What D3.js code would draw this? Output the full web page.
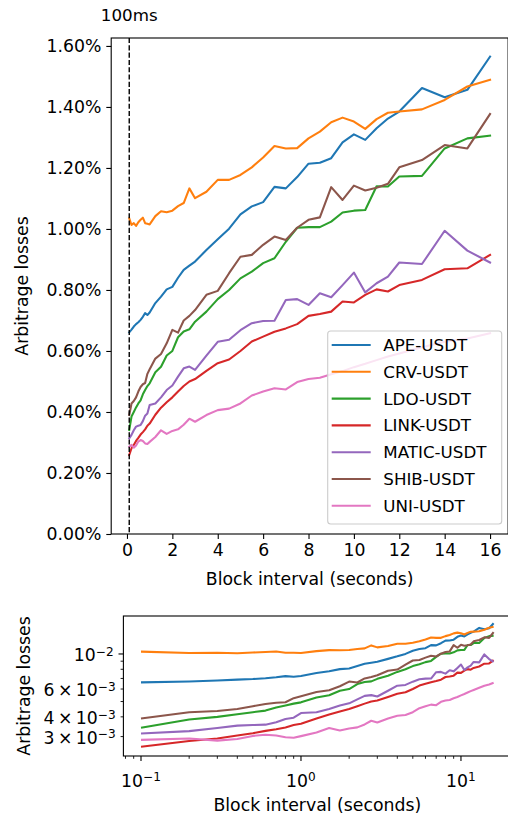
<!DOCTYPE html>
<html><head><meta charset="utf-8">
<script src="https://cdn.jsdelivr.net/npm/d3@7"></script>
<style>body{margin:0;background:#fff;} svg text{font-family:"DejaVu Sans",sans-serif;fill:#000;}</style>
</head><body><svg id="c" width="508" height="818"></svg>
<script>
// ---- data (arbitrage losses in %) ----
const blockIntervals = [0.1,0.2,0.3,0.4,0.5,0.6,0.7,0.8,0.9,1.0,1.25,1.5,1.75,2.0,2.25,2.5,2.75,3.0,3.5,4.0,4.5,5.0,5.5,6.0,6.5,7.0,7.5,8.0,8.5,9.0,9.5,10.0,10.5,11.0,11.5,12.0,13,14,15,16];
const pairNames = ["APE-USDT","CRV-USDT","LDO-USDT","LINK-USDT","MATIC-USDT","SHIB-USDT","UNI-USDT"];
const apeUsdt = [0.661,0.670,0.680,0.688,0.694,0.702,0.712,0.724,0.718,0.726,0.757,0.778,0.802,0.810,0.840,0.866,0.880,0.893,0.931,0.966,1.001,1.048,1.074,1.088,1.138,1.133,1.170,1.214,1.217,1.232,1.284,1.310,1.292,1.330,1.362,1.385,1.462,1.432,1.456,1.565];
const crvUsdt = [1.035,1.013,1.019,1.010,1.022,1.030,1.037,1.019,1.017,1.015,1.042,1.058,1.055,1.060,1.075,1.085,1.133,1.101,1.122,1.161,1.161,1.177,1.202,1.234,1.272,1.264,1.265,1.297,1.319,1.350,1.365,1.352,1.328,1.360,1.381,1.385,1.392,1.423,1.467,1.489];
const ldoUsdt = [0.341,0.385,0.400,0.415,0.428,0.438,0.458,0.472,0.485,0.494,0.530,0.548,0.585,0.600,0.645,0.664,0.671,0.696,0.729,0.770,0.800,0.838,0.860,0.888,0.904,0.958,1.004,1.006,1.006,1.024,1.054,1.060,1.062,1.140,1.139,1.172,1.174,1.264,1.297,1.306];
const linkUsdt = [0.259,0.281,0.292,0.305,0.315,0.326,0.334,0.343,0.355,0.362,0.391,0.414,0.432,0.448,0.467,0.485,0.500,0.508,0.535,0.560,0.572,0.600,0.631,0.647,0.663,0.674,0.688,0.715,0.721,0.729,0.762,0.759,0.784,0.802,0.795,0.816,0.833,0.868,0.871,0.915];
const maticUsdt = [0.314,0.325,0.340,0.352,0.355,0.357,0.370,0.388,0.395,0.423,0.428,0.448,0.472,0.487,0.516,0.543,0.549,0.538,0.585,0.630,0.637,0.668,0.691,0.698,0.699,0.767,0.770,0.751,0.789,0.776,0.816,0.857,0.792,0.822,0.844,0.890,0.885,0.994,0.929,0.890];
const shibUsdt = [0.390,0.428,0.436,0.448,0.467,0.482,0.491,0.495,0.525,0.540,0.575,0.590,0.625,0.669,0.660,0.700,0.715,0.734,0.784,0.797,0.855,0.909,0.915,0.948,0.975,0.964,1.004,1.030,1.038,1.137,1.095,1.142,1.126,1.135,1.148,1.202,1.226,1.275,1.264,1.377];
const uniUsdt = [0.286,0.292,0.283,0.290,0.303,0.308,0.305,0.297,0.295,0.302,0.318,0.340,0.328,0.338,0.343,0.358,0.378,0.368,0.390,0.406,0.411,0.428,0.454,0.467,0.478,0.474,0.498,0.508,0.512,0.524,0.534,0.547,0.558,0.570,0.582,0.592,0.612,0.630,0.641,0.658];
const seriesValues = [apeUsdt,crvUsdt,ldoUsdt,linkUsdt,maticUsdt,shibUsdt,uniUsdt];
const colors = ["#1f77b4","#ff7f0e","#2ca02c","#d62728","#9467bd","#8c564b","#e377c2"];
const topXTicks = [0,2,4,6,8,10,12,14,16];
const topYTicks = [0,0.2,0.4,0.6,0.8,1.0,1.2,1.4,1.6];
const logXMajor = [0.1,1,10];
const logXMajorExp = ["\u22121","0","1"];
const logYLabeled = [0.01,0.006,0.004,0.003];
const logYLabelText = [["","\u22122"],["6\u2009\u00d7\u2009","\u22123"],["4\u2009\u00d7\u2009","\u22123"],["3\u2009\u00d7\u2009","\u22123"]];
const markerInterval = 0.1;
const markerLabel = "100ms";
const xLabel = "Block interval (seconds)";
const yLabel = "Arbitrage losses";

const FS = 17.3, TL = 4.9, TLm = 2.8, PAD = 4.9, SW = 1.1;
const svg = d3.select("#c");

// ---------- top linear chart ----------
const T = {l:111.2, r:508.1, t:38, b:534};
const x1 = d3.scaleLinear().domain([-0.695,16.795]).range([T.l,T.r]);
const y1 = d3.scaleLinear().domain([0,1.626]).range([T.b,T.t]);
const g1 = svg.append("g");
const line1 = d3.line().x((d,i)=>x1(blockIntervals[i])).y(d=>y1(d));
seriesValues.forEach((s,k)=>{
  g1.append("path").datum(s).attr("d",line1).attr("fill","none")
    .attr("stroke",colors[k]).attr("stroke-width",2.08).attr("stroke-linejoin","round").attr("stroke-linecap","square");
});
g1.append("line").attr("x1",x1(markerInterval)).attr("x2",x1(markerInterval))
  .attr("y1",T.t).attr("y2",T.b).attr("stroke","#000").attr("stroke-width",1.4).attr("stroke-dasharray","5.1,2.2");
g1.append("text").attr("x",x1(markerInterval)).attr("y",20.5).attr("text-anchor","middle")
  .style("font-size","16.7px").text(markerLabel);
g1.append("rect").attr("x",T.l).attr("y",T.t).attr("width",T.r-T.l).attr("height",T.b-T.t)
  .attr("fill","none").attr("stroke","#000").attr("stroke-width",SW);
const ax1 = g1.append("g").attr("transform",`translate(0,${T.b})`)
  .call(d3.axisBottom(x1).tickValues(topXTicks).tickSize(TL).tickPadding(PAD).tickFormat(d3.format("d")));
const ay1 = g1.append("g").attr("transform",`translate(${T.l},0)`)
  .call(d3.axisLeft(y1).tickValues(topYTicks).tickSize(TL).tickPadding(PAD).tickFormat(d=>d.toFixed(2)+"%"));
[ax1,ay1].forEach(a=>{a.select(".domain").remove(); a.selectAll("line").attr("stroke","#000").attr("stroke-width",SW);
  a.selectAll("text").style("font-size",FS+"px").style("font-family","DejaVu Sans").attr("fill","#000");});
g1.append("text").attr("x",(T.l+T.r)/2).attr("y",584.5).attr("text-anchor","middle").style("font-size",FS+"px").text(xLabel);
g1.append("text").attr("transform",`translate(28,${(T.t+T.b)/2}) rotate(-90)`).attr("text-anchor","middle").style("font-size",FS+"px").text(yLabel);

// legend
const L = {x:327.7,y:331,w:174,h:193};
const lg = g1.append("g");
lg.append("rect").attr("x",L.x).attr("y",L.y).attr("width",L.w).attr("height",L.h).attr("rx",3)
  .attr("fill","#fff").attr("fill-opacity",0.8).attr("stroke","#cccccc").attr("stroke-width",SW);
pairNames.forEach((n,i)=>{
  const yy = L.y + 14 + i*26.8;
  lg.append("line").attr("x1",L.x+4).attr("x2",L.x+43).attr("y1",yy).attr("y2",yy).attr("stroke",colors[i]).attr("stroke-width",2.08);
  lg.append("text").attr("x",L.x+55.6).attr("y",yy).attr("dy","0.36em").style("font-size","16.7px").text(n);
});

// ---------- bottom log chart ----------
const B = {l:123.4, r:511.2, t:616, b:756};
const x2 = d3.scaleLog().domain([Math.pow(10,-1.110),Math.pow(10,1.314)]).range([B.l,B.r]);
const y2 = d3.scaleLog().domain([0.002261,0.01739]).range([B.b,B.t]);
const g2 = svg.append("g");
const line2 = d3.line().x((d,i)=>x2(blockIntervals[i])).y(d=>y2(d/100));
seriesValues.forEach((s,k)=>{
  g2.append("path").datum(s).attr("d",line2).attr("fill","none")
    .attr("stroke",colors[k]).attr("stroke-width",2.08).attr("stroke-linejoin","round");
});
g2.append("rect").attr("x",B.l).attr("y",B.t).attr("width",B.r-B.l).attr("height",B.b-B.t)
  .attr("fill","none").attr("stroke","#000").attr("stroke-width",SW);
// x ticks
const xMinor = [];
[0.01,0.1,1,10].forEach(dec=>{for(let m=2;m<=9;m++){const v=m*dec; if(v>x2.domain()[0]&&v<x2.domain()[1]) xMinor.push(v);}});
xMinor.forEach(v=>g2.append("line").attr("x1",x2(v)).attr("x2",x2(v)).attr("y1",B.b).attr("y2",B.b+TLm).attr("stroke","#000").attr("stroke-width",SW*0.8));
logXMajor.forEach((v,i)=>{
  g2.append("line").attr("x1",x2(v)).attr("x2",x2(v)).attr("y1",B.b).attr("y2",B.b+TL).attr("stroke","#000").attr("stroke-width",SW);
  const t = g2.append("text").attr("x",x2(v)).attr("y",786.5).attr("text-anchor","middle").style("font-size",FS+"px");
  t.append("tspan").text("10");
  t.append("tspan").attr("dy","-0.45em").style("font-size",(FS*0.7)+"px").text(logXMajorExp[i]);
});
// y ticks
const yMinor = [];
[0.001,0.01].forEach(dec=>{for(let m=2;m<=9;m++){const v=m*dec; if(v>y2.domain()[0]&&v<y2.domain()[1]) yMinor.push(v);}});
yMinor.forEach(v=>g2.append("line").attr("x1",B.l-TLm).attr("x2",B.l).attr("y1",y2(v)).attr("y2",y2(v)).attr("stroke","#000").attr("stroke-width",SW*0.8));
g2.append("line").attr("x1",B.l-TL).attr("x2",B.l).attr("y1",y2(0.01)).attr("y2",y2(0.01)).attr("stroke","#000").attr("stroke-width",SW);
logYLabeled.forEach((v,i)=>{
  const tl = v===0.01?TL:TLm;
  const t = g2.append("text").attr("x",B.l-tl-PAD).attr("y",y2(v)).attr("dy","0.42em").attr("text-anchor","end").style("font-size",FS+"px");
  t.append("tspan").text(logYLabelText[i][0]+"10");
  t.append("tspan").attr("dy","-0.45em").style("font-size",(FS*0.7)+"px").text(logYLabelText[i][1]);
});
g2.append("text").attr("x",(B.l+B.r)/2).attr("y",810.5).attr("text-anchor","middle").style("font-size",FS+"px").text(xLabel);
g2.append("text").attr("transform",`translate(30,${(B.t+B.b)/2}) rotate(-90)`).attr("text-anchor","middle").style("font-size",FS+"px").text(yLabel);
</script></body></html>
